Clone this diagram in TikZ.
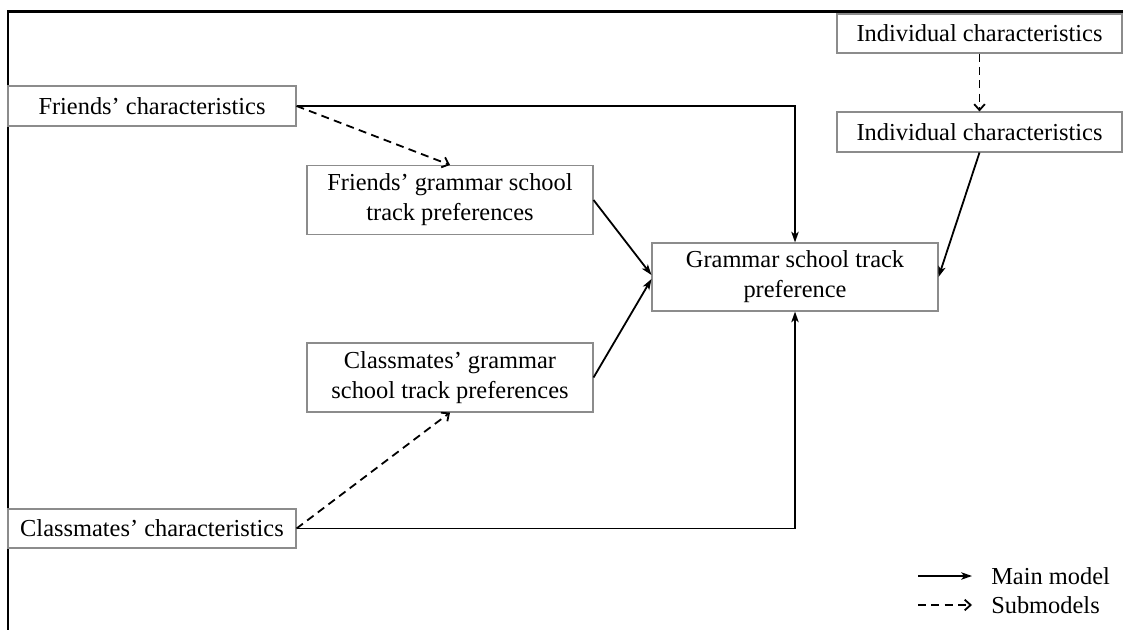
\documentclass[tikz,border=0pt]{standalone}
\usepackage{fontspec}
\setmainfont{Liberation Serif}
\usetikzlibrary{arrows.meta}
\tikzset{
  box/.style={draw=black!45, line width=0.8pt, inner sep=0pt, align=center,
    font=\fontsize{18.3pt}{22.5pt}\selectfont},
  mainarrow/.style={line width=1.35pt, -{Stealth[length=8pt,width=5.5pt,inset=2pt]}},
  subarrow/.style={line width=1.35pt, dash pattern=on 6pt off 4pt, -{Straight Barb[length=4.5pt,width=8pt]}},
  legtext/.style={anchor=west, inner sep=0pt, font=\fontsize{18.3pt}{22pt}\selectfont},
  frameline/.style={line width=1.6pt}
}
\begin{document}
\begin{tikzpicture}[x=0.75pt,y=-0.75pt]
\useasboundingbox (0,0) rectangle (1123,630);
\draw[frameline] (8,630) -- (8,11.5) -- (1123,11.5);

\node[box, minimum width=216pt, minimum height=30pt] (fc) at (152,106) {Friends’ characteristics};
\node[box, minimum width=213.75pt, minimum height=29.25pt] (ind1) at (979.5,33.5) {Individual characteristics};
\node[box, minimum width=213.75pt, minimum height=30pt] (ind2) at (979.5,132) {Individual characteristics};
\node[box, minimum width=214.5pt, minimum height=51.75pt] (fg) at (450,200) {Friends’ grammar school\\track preferences};
\node[box, minimum width=214.5pt, minimum height=51pt] (gs) at (795,277) {Grammar school track\\preference};
\node[box, minimum width=214.5pt, minimum height=51.75pt] (cg) at (450,377.5) {Classmates’ grammar\\school track preferences};
\node[box, minimum width=216pt, minimum height=29.25pt] (cc) at (152,528.5) {Classmates’ characteristics};

\draw[mainarrow] (fc.east) -| (gs.north);
\draw[mainarrow] (cc.east) -| (gs.south);
\draw[subarrow] (fc.east) -- (fg.north);
\draw[subarrow] (cc.east) -- (cg.south);
\draw[subarrow] (ind1.south) -- (ind2.north);
\draw[mainarrow] (ind2.south) -- (gs.east);
\draw[mainarrow] (fg.east) -- ([yshift=1.5pt]gs.west);
\draw[mainarrow] (cg.east) -- ([yshift=-1.5pt]gs.west);

\coordinate (m1) at (918,576);
\coordinate (m2) at (972,576);
\coordinate (s1) at (918,605);
\coordinate (s2) at (972,605);
\draw[mainarrow] (m1) -- (m2);
\draw[subarrow] (s1) -- (s2);
\node[legtext] (lm) at (991,576) {Main model};
\node[legtext] (ls) at (991,605) {Submodels};
\end{tikzpicture}
\end{document}
